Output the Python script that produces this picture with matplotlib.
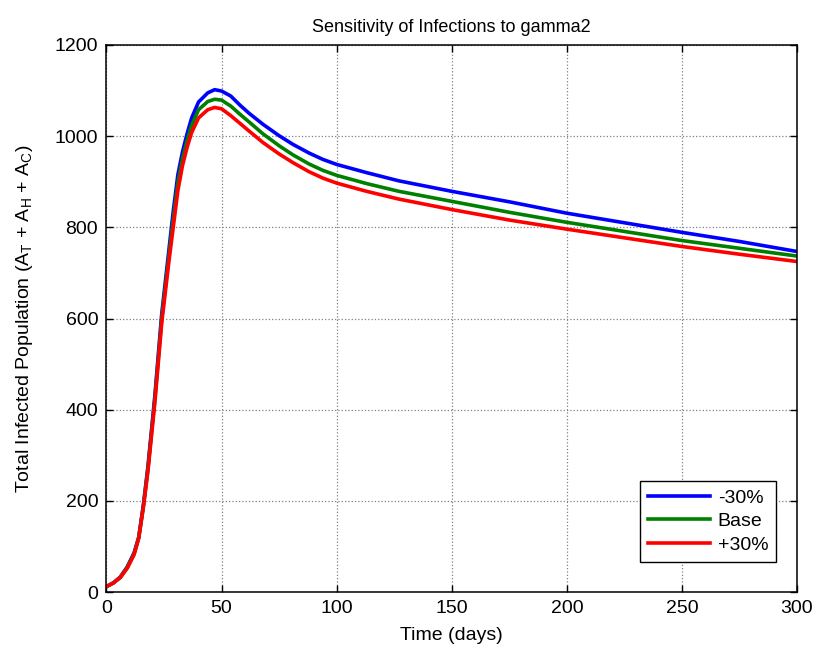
import matplotlib
matplotlib.use("Agg")
import matplotlib.pyplot as plt

plt.rcParams['font.family'] = ['Liberation Sans', 'DejaVu Sans']
plt.rcParams['mathtext.fontset'] = 'custom'
plt.rcParams['mathtext.rm'] = 'Liberation Sans'

# Simulation output sampled by day
days = [0, 3, 6, 9, 12, 14, 16, 18, 21, 24, 27, 29, 31, 33, 35, 37, 40, 44, 47,
        50, 54, 58, 62, 68, 75, 81, 88, 94, 100, 113, 127, 150, 175, 200, 225,
        250, 275, 300]

infected_minus30 = [12, 20, 33, 55, 86, 120, 190, 275, 430, 610, 745, 835, 915, 965,
                    1005, 1040, 1075, 1095, 1102, 1099, 1088, 1068, 1050, 1026, 1001,
                    982, 963, 949, 938, 920, 902, 879, 856, 831, 810, 789, 769, 747]
infected_base = [12, 20, 32, 54, 84, 119, 187, 270, 422, 600, 732, 818, 898, 950,
                 990, 1024, 1058, 1076, 1081, 1079, 1066, 1048, 1031, 1005, 979,
                 959, 939, 925, 914, 896, 879, 857, 833, 811, 791, 771, 754, 737]
infected_plus30 = [12, 20, 32, 52, 82, 118, 185, 265, 415, 590, 720, 800, 880, 935,
                   975, 1008, 1040, 1058, 1063, 1060, 1045, 1028, 1011, 986, 961,
                   942, 922, 908, 897, 879, 862, 839, 816, 796, 777, 758, 741, 725]

labels = ['-30%', 'Base', '+30%']
colors = ['#0000ff', '#008000', '#ff0000']
x_ticks = [0, 50, 100, 150, 200, 250, 300]
y_ticks = [0, 200, 400, 600, 800, 1000, 1200]

fig = plt.figure(figsize=(8.16, 6.52), dpi=100)
ax = fig.add_axes([0.1305, 0.092, 0.8462, 0.839])

for series, lab, col in zip([infected_minus30, infected_base, infected_plus30], labels, colors):
    ax.plot(days, series, color=col, linewidth=2.6, label=lab)

ax.set_xlim(0, 300)
ax.set_ylim(0, 1200)
ax.set_xticks(x_ticks)
ax.set_yticks(y_ticks)
ax.tick_params(direction='in', top=True, right=True, length=5, width=1,
               labelsize=14, colors='black', pad=6)
ax.grid(True, linestyle=':', color='#808080', linewidth=0.9)
for sp in ax.spines.values():
    sp.set_linewidth(1.1)
    sp.set_color('black')

ax.set_title('Sensitivity of Infections to gamma2', fontsize=13, pad=9)
ax.set_xlabel('Time (days)', fontsize=14, labelpad=7)
ax.set_ylabel(r'Total Infected Population (A$_\mathrm{T}$ + A$_\mathrm{H}$ + A$_\mathrm{C}$)',
              fontsize=14, labelpad=14)

leg = ax.legend(loc='lower right', bbox_to_anchor=(0.984, 0.038), fontsize=14,
                fancybox=False, framealpha=1, edgecolor='black',
                handlelength=3.2, handletextpad=0.4, borderpad=0.4, labelspacing=0.3)
leg.get_frame().set_linewidth(1.0)

fig.savefig('out.png', dpi=100)
